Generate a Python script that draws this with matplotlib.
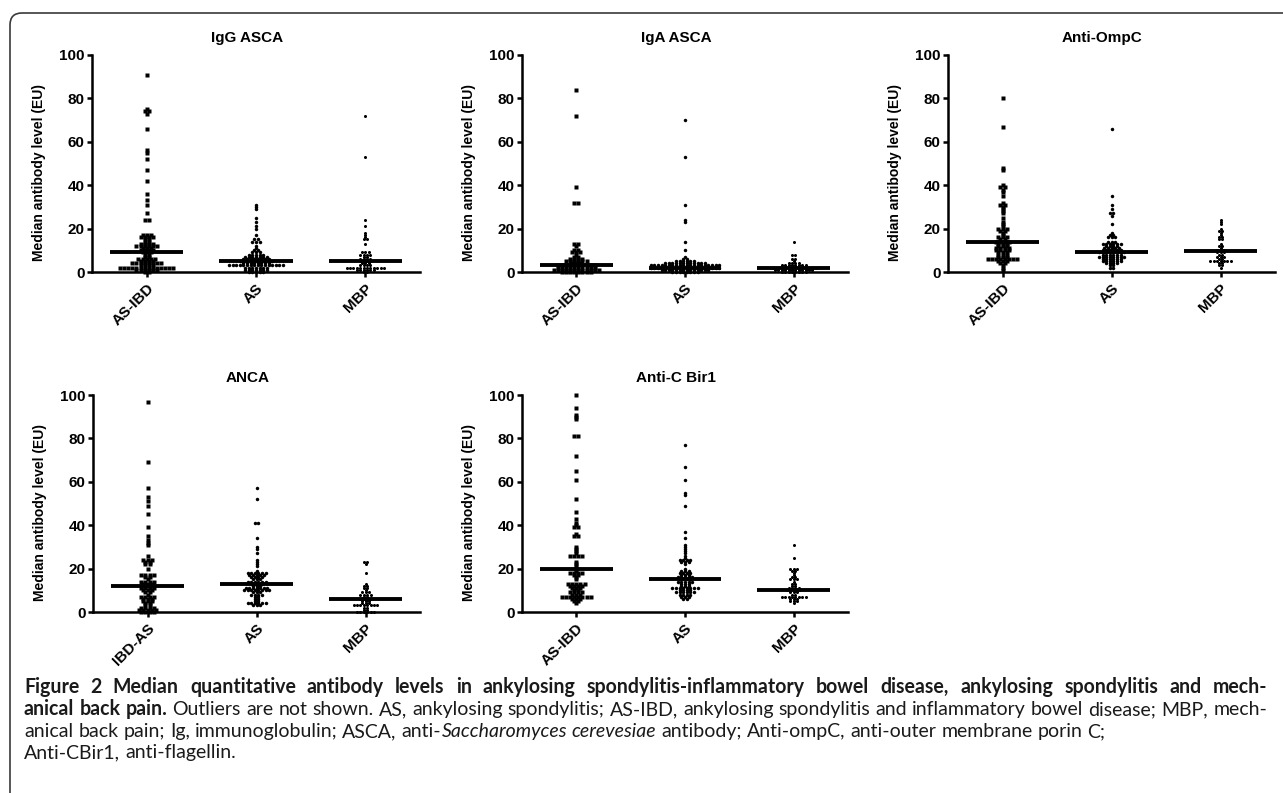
import matplotlib
matplotlib.use("Agg")
import matplotlib.pyplot as plt
from matplotlib.patches import FancyBboxPatch
from matplotlib.transforms import IdentityTransform
import numpy as np

# ---- data (EU values) ----
groups = ["AS-IBD", "AS", "MBP"]
groups_anca = ["IBD-AS", "AS", "MBP"]
titles = ["IgG ASCA", "IgA ASCA", "Anti-OmpC", "ANCA", "Anti-C Bir1"]

def rep(pairs):
    out = []
    for v, n in pairs:
        out += [v] * n
    return out

# IgG ASCA
igg_asibd = [91, 75, 74, 74, 73, 66, 56, 55, 52, 47, 42, 36, 33, 31, 27, 24, 24] + rep(
    [(17, 3), (16, 4), (15, 2), (14, 2), (13, 4), (12, 6), (11, 3), (10, 4), (9, 3), (8, 2),
     (7, 2), (6, 5), (5, 4), (4, 8), (3, 4), (2, 14), (1, 6), (0, 2)])
igg_as = [31, 30, 29, 25, 23, 21, 20, 17, 15, 15, 14, 14, 14, 12, 11, 10, 10] + rep(
    [(9, 3), (8, 5), (7, 7), (6, 8), (5, 10), (4, 8), (3, 16), (2, 7), (1, 7), (0, 5)])
igg_mbp = [72, 53, 24, 21, 18, 17, 16, 15, 15, 13] + rep(
    [(9, 3), (8, 4), (7, 2), (6, 4), (5, 4), (4, 3), (3, 4), (2, 12), (1, 6), (0, 2)])

# IgA ASCA
iga_asibd = [84, 72, 39, 32, 32] + rep(
    [(13, 2), (12, 1), (10, 2), (9, 3), (8, 1), (7, 2), (6, 4), (5, 6), (4, 3), (3, 10),
     (2, 10), (1, 12), (0, 8)])
iga_as = [70, 53, 31, 24, 23, 14, 10, 7, 6, 6] + rep(
    [(5, 6), (4, 12), (3, 20), (2, 20), (1, 14), (0, 8)])
iga_mbp = [14] + rep([(8, 2), (6, 2), (5, 1), (4, 4), (3, 8), (2, 14), (1, 12), (0, 8)])

# Anti-OmpC
ompc_asibd = [80, 67, 48, 47, 40, 39, 39, 38, 37, 35, 32, 31, 31, 30, 29, 28, 27, 25, 23, 22, 21] + rep(
    [(20, 3), (19, 2), (18, 1), (17, 1), (16, 3), (15, 2), (14, 4), (13, 3), (12, 3), (11, 4),
     (10, 4), (9, 3), (8, 3), (7, 3), (6, 8), (5, 3), (4, 2), (3, 1), (2, 1), (1, 1)])
ompc_as = [66, 35, 31, 29, 27, 27, 26, 22, 18] + rep(
    [(17, 2), (16, 3), (14, 3), (13, 6), (12, 4), (11, 5), (10, 6), (9, 8), (8, 6), (7, 8),
     (6, 6), (5, 6), (4, 4), (3, 2), (2, 2)])
ompc_mbp = [24, 23, 22, 20, 19, 19, 18, 17, 16, 16, 15, 15, 13, 12, 12, 11] + rep(
    [(10, 3), (9, 3), (8, 2), (7, 3), (6, 2), (5, 7), (4, 2), (3, 2), (2, 1)])

# ANCA
anca_ibdas = [97, 69, 57, 53, 51, 49, 45, 39, 35, 33, 32, 31, 26] + rep(
    [(24, 3), (23, 2), (22, 2), (20, 1), (17, 4), (16, 2), (15, 1), (14, 4), (13, 3), (12, 3),
     (11, 4), (10, 3), (9, 2), (8, 1), (7, 4), (6, 3), (5, 3), (4, 2), (3, 2), (2, 4), (1, 5), (0, 4)])
anca_as = [57, 52, 41, 41, 34, 30, 29, 27, 24, 23, 22, 21, 19] + rep(
    [(18, 6), (17, 5), (16, 4), (15, 3), (14, 6), (13, 4), (12, 3), (11, 7), (10, 8), (9, 3),
     (8, 4), (7, 2), (6, 2), (5, 2), (4, 6), (3, 3)])
anca_mbp = [23, 23, 22, 18, 13, 12, 12, 11, 11, 10] + rep(
    [(9, 3), (8, 4), (7, 2), (6, 4), (5, 3), (4, 3), (3, 8), (2, 2), (1, 2), (0, 6)])

# Anti-C Bir1
cbir_asibd = [100, 94, 91, 90, 89, 81, 81, 72, 65, 61, 52, 46, 43, 41, 40, 39, 39, 36, 35, 35,
              30, 29, 28, 27] + rep(
    [(26, 4), (23, 1), (22, 1), (21, 1), (20, 1), (19, 1), (18, 4), (17, 2), (16, 1), (15, 1),
     (13, 5), (12, 4), (11, 3), (10, 2), (9, 4), (8, 3), (7, 8), (6, 3), (5, 2), (4, 1)])
cbir_as = [77, 67, 61, 55, 54, 49, 37, 34, 31, 30, 29, 28, 27, 26, 25] + rep(
    [(24, 4), (23, 3), (22, 1), (20, 1), (19, 3), (18, 4), (17, 3), (16, 5), (15, 4), (14, 5),
     (13, 3), (12, 3), (11, 8), (10, 4), (9, 6), (8, 4), (7, 3), (6, 2)])
cbir_mbp = [31, 25] + rep(
    [(20, 3), (19, 2), (18, 1), (17, 1), (16, 2), (15, 3), (14, 1), (13, 2), (12, 2), (11, 4),
     (10, 5), (9, 3), (8, 2), (7, 8), (6, 3), (5, 3), (4, 1)])

medians = [[9, 5, 5], [3, 2, 2], [14, 9, 9.5], [12, 13, 6], [20, 15, 10]]

panel_data = [
    [igg_asibd, igg_as, igg_mbp],
    [iga_asibd, iga_as, iga_mbp],
    [ompc_asibd, ompc_as, ompc_mbp],
    [anca_ibdas, anca_as, anca_mbp],
    [cbir_asibd, cbir_as, cbir_mbp],
]
panel_groups = [groups, groups, groups, groups_anca, groups]

# ---- figure ----
W, H = 1283, 793
fig = plt.figure(figsize=(W / 100, H / 100), dpi=100)
plt.rcParams['font.family'] = ['Liberation Sans', 'DejaVu Sans']

# axes boxes in pixels: left, right, top, bottom
boxes = [(92, 420, 55, 272), (522, 848, 55, 272), (948, 1275, 55, 272),
         (93, 420, 395, 612), (522, 848, 395, 612)]

# marker style per group: (marker, size, step in px)
mstyle = [('s', 2.6, 4.1), ('o', 2.5, 3.6), ('o', 2.2, 3.4)]


def swarm(ax, xc, vals, marker, ms, step):
    vals = np.sort(np.asarray(vals, float))
    xs, ys = [], []
    for v in np.unique(vals):
        n = int(np.sum(vals == v))
        off = (np.arange(n) - (n - 1) / 2) * step
        xs.extend(xc + off)
        ys.extend([v] * n)
    ax.plot(xs, ys, ls='none', marker=marker, ms=ms, color='black',
            mec='none', clip_on=False, zorder=3)


for i, (l, r, t, b) in enumerate(boxes):
    ax = fig.add_axes([l / W, 1 - b / H, (r - l) / W, (b - t) / H])
    pxu = (r - l) / 3.0  # pixels per category unit
    for j in range(3):
        mk, ms, st = mstyle[j]
        swarm(ax, j, panel_data[i][j], mk, ms, st / pxu)
        ax.plot([j - 0.335, j + 0.335], [medians[i][j]] * 2, color='black',
                lw=2.8, solid_capstyle='butt', zorder=4)
    ax.set_xlim(-0.5, 2.5)
    ax.set_ylim(0, 100)
    ax.set_yticks([0, 20, 40, 60, 80, 100])
    ax.set_xticks([0, 1, 2])
    ax.set_xticklabels(panel_groups[i], rotation=45, ha='right',
                       rotation_mode='anchor', fontsize=11, fontweight='bold')
    for lab in ax.get_yticklabels():
        lab.set_fontsize(11)
        lab.set_fontweight('bold')
    for s in ['top', 'right']:
        ax.spines[s].set_visible(False)
    for s in ['left', 'bottom']:
        ax.spines[s].set_linewidth(1.8)
    ax.tick_params(direction='out', length=3.8, width=1.8, pad=1.5)
    ax.tick_params(axis='x', pad=3)
    ax.set_ylabel("Median antibody level (EU)", fontsize=10, fontweight='bold')
    ax.yaxis.set_label_coords(-46 / (r - l), 0.46)
    fig.text(((l + r) / 2 - 9) / W, 1 - (t - 17) / H, titles[i], ha='center',
             va='center', fontsize=11, fontweight='bold')

# ---- frame ----
frame = FancyBboxPatch((10, -40), 1320, H - 13 + 40,
                       boxstyle="round,pad=0,rounding_size=12",
                       transform=IdentityTransform(), fill=False,
                       ec='#3a3a3a', lw=1.2)
fig.add_artist(frame)

# ---- caption ----
cap_font = ['Lato', 'DejaVu Sans']
lines = [
    [("Figure 2 Median quantitative antibody levels in ankylosing spondylitis-inflammatory "
      "bowel disease, ankylosing spondylitis and mech-", dict(fontweight='bold'))],
    [("anical back pain.", dict(fontweight='bold')),
     (" Outliers are not shown. AS, ankylosing spondylitis; AS-IBD, ankylosing spondylitis "
      "and inflammatory bowel disease; MBP, mech-", {})],
    [("anical back pain; Ig, immunoglobulin; ASCA, anti-", {}),
     ("Saccharomyces cerevesiae", dict(style='italic')),
     (" antibody; Anti-ompC, anti-outer membrane porin C;", {})],
    [("Anti-CBir1, anti-flagellin.", {})],
]
justify = [True, True, False, False]
line_base = [693, 715, 737, 758]   # baselines in px from top
x0, x1 = 24, 1267

renderer = fig.canvas.get_renderer()


def to_words(parts):
    words, glue = [], False
    for txt, kw in parts:
        for k, pc in enumerate(txt.split(' ')):
            if k == 0 and glue and words and pc:
                words[-1].append((pc, kw))
            elif pc:
                words.append([(pc, kw)])
        glue = not txt.endswith(' ')
    return words


def seg_width(txt, kw, size):
    p = fig.text(0, 0, txt, fontsize=size, family=cap_font, **kw)
    w = p.get_window_extent(renderer).width
    p.remove()
    return w


def word_width(word, size):
    return sum(seg_width(t, kw, size) for t, kw in word)


def natural_width(parts, size):
    words = to_words(parts)
    sp = seg_width("n n", {}, size) - seg_width("nn", {}, size)
    return sum(word_width(w, size) for w in words) + sp * (len(words) - 1)


cap_size = min(10 * (x1 - x0) / natural_width(lines[k], 10) for k in (0, 1))
space = seg_width("n n", {}, cap_size) - seg_width("nn", {}, cap_size)

for parts, y, jst in zip(lines, line_base, justify):
    words = to_words(parts)
    widths = [word_width(w, cap_size) for w in words]
    gap = (x1 - x0 - sum(widths)) / (len(words) - 1) if jst else space
    x = x0
    for w, ww in zip(words, widths):
        xs = x
        for txt, kw in w:
            tt = fig.text(xs / W, 1 - y / H, txt, fontsize=cap_size, va='baseline',
                          family=cap_font, color='#1a1a1a', **kw)
            xs = tt.get_window_extent(renderer).x1
        x += ww + gap

fig.savefig("out.png", dpi=100)
